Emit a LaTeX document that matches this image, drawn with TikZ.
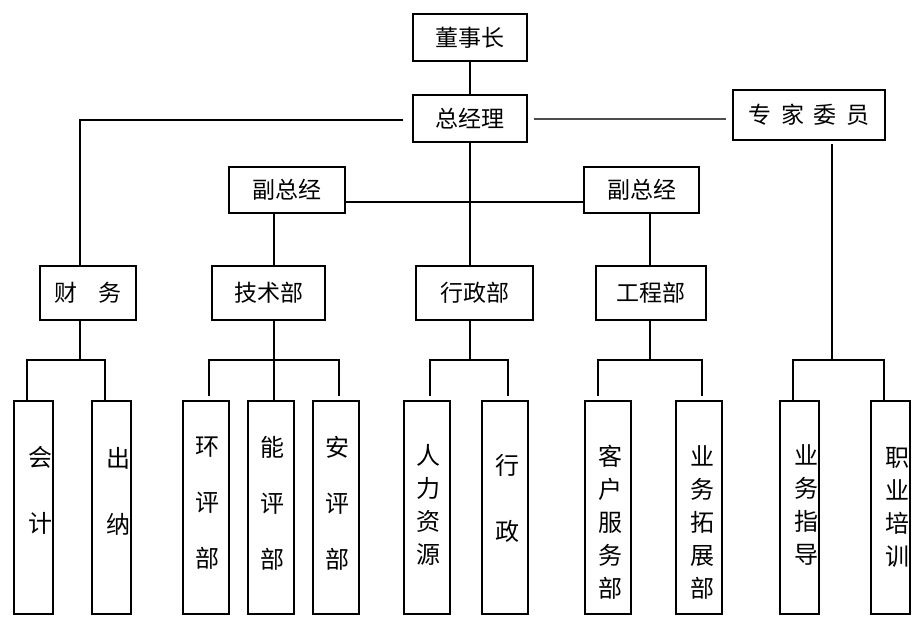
\documentclass[tikz,border=0pt]{standalone}
\usepackage{fontspec}
\newfontfamily\cjk{Noto Sans CJK SC}
\usetikzlibrary{positioning,calc}
\tikzset{
  box/.style={
    rectangle,
    draw=black, line width=2pt,
    inner sep=0pt,
    font=\cjk\fontsize{23}{28}\selectfont,
    text centered},
  leaf/.style={
    rectangle,
    draw=black, line width=2pt,
    inner sep=0pt,
    minimum width=39pt,
    minimum height=213pt},
  wide/.style={minimum width=46pt},
  vtext/.style={
    inner sep=0pt,
    align=center,
    font=\cjk\fontsize{24}{33}\selectfont},
  line/.style={draw, line width=2pt},
}
\begin{document}
\begin{tikzpicture}[x=1pt,y=-1pt]
    \useasboundingbox (0,0) rectangle (923,633);

    % top level
    \node [box, minimum width=114pt, minimum height=47pt] (dsz) at (470,37.5) {董事长};
    \node [box, minimum width=114pt, minimum height=47pt] (zjl) at (470,118.5) {总经理};
    \node [box, minimum width=152pt, minimum height=50pt] (zj) at (809,115) {专\hspace{0.42em}家\hspace{0.42em}委\hspace{0.42em}员};
    \node [box, minimum width=116pt, minimum height=46pt] (fz1) at (287,190) {副总经};
    \node [box, minimum width=115pt, minimum height=46pt] (fz2) at (641.5,190) {副总经};

    % departments
    \node [box, minimum width=96pt, minimum height=54pt] (cw) at (88,293) {财\hspace{0.9em}务};
    \node [box, minimum width=113pt, minimum height=54pt] (jsb) at (268.5,293) {技术部};
    \node [box, minimum width=117pt, minimum height=54pt] (xzb) at (474.5,293) {行政部};
    \node [box, minimum width=110pt, minimum height=54pt] (gcb) at (651,293) {工程部};

    % leaves
    \node [leaf] (kj) at (33.5,507.5) {};
    \node [leaf] (cn) at (111.5,507.5) {};
    \node [leaf, wide] (hp) at (206,507.5) {};
    \node [leaf, wide] (np) at (271,507.5) {};
    \node [leaf, wide] (ap) at (336,507.5) {};
    \node [leaf, wide] (rl) at (427,507.5) {};
    \node [leaf, wide] (xz) at (505,507.5) {};
    \node [leaf, wide] (kh) at (608,507.5) {};
    \node [leaf, wide] (yt) at (699,507.5) {};
    \node [leaf] (yz) at (799.5,507.5) {};
    \node [leaf] (zp) at (890.5,507.5) {};

    \node [vtext] (kj-t) at (40,490) {会\\[33pt]计};
    \node [vtext] (cn-t) at (118,491) {出\\[33pt]纳};
    \node [vtext] (hp-t) at (207,503) {环\\[23pt]评\\[23pt]部};
    \node [vtext] (np-t) at (272,503) {能\\[23pt]评\\[23pt]部};
    \node [vtext] (ap-t) at (337,503) {安\\[23pt]评\\[23pt]部};
    \node [vtext] (rl-t) at (428,505) {人\\力\\资\\源};
    \node [vtext] (xz-t) at (507,498) {行\\[33pt]政};
    \node [vtext] (kh-t) at (610,522) {客\\户\\服\\务\\部};
    \node [vtext] (yt-t) at (702,522) {业\\务\\拓\\展\\部};
    \node [vtext] (yz-t) at (806,505) {业\\务\\指\\导};
    \node [vtext] (zp-t) at (897,507) {职\\业\\培\\训};

    % junctions and drops
    \coordinate (cw-j) at (80,360);
    \coordinate (jsb-j) at (274,360);
    \coordinate (xzb-j) at (470,360);
    \coordinate (gcb-j) at (650,360);
    \coordinate (zj-j) at (832,360);
    \coordinate (kj-d) at (27,401);
    \coordinate (cn-d) at (105,401);
    \coordinate (hp-d) at (209,396);
    \coordinate (ap-d) at (339,396);
    \coordinate (rl-d) at (430,396);
    \coordinate (xz-d) at (508,396);
    \coordinate (kh-d) at (598,396);
    \coordinate (yt-d) at (702,396);
    \coordinate (yz-d) at (793,401);
    \coordinate (zp-d) at (884,401);

    % connectors
    \draw[line] (dsz.south) -- (zjl.north);
    \draw[line] ([xshift=-9pt,yshift=-1.5pt]zjl.west) -| (cw.north -| cw-j);
    \draw[line, black!70] ([xshift=6pt]zjl.east) -- ([xshift=-6pt]zjl.east -| zj.west);
    \draw[line] (zjl.south) -- (zjl.south |- xzb.north);
    \draw[line] ([yshift=-12pt]fz1.east) -- ([yshift=-12pt]fz2.west);
    \draw[line] (fz1.south -| jsb-j) -- (jsb.north -| jsb-j);
    \draw[line] (fz2.south -| gcb-j) -- (gcb.north -| gcb-j);
    \draw[line] ([yshift=-3pt]zj.south -| zj-j) -- (zj-j);

    \draw[line] (cw.south -| cw-j) -- (cw-j);
    \draw[line] (kj-d) |- (cw-j) -| (cn-d);
    \draw[line] (jsb.south -| jsb-j) -- (jsb-j) -- (jsb-j |- np.north);
    \draw[line] (hp-d) |- (jsb-j) -| (ap-d);
    \draw[line] (xzb.south -| xzb-j) -- (xzb-j);
    \draw[line] (rl-d) |- (xzb-j) -| (xz-d);
    \draw[line] (gcb.south -| gcb-j) -- (gcb-j);
    \draw[line] (kh-d) |- (gcb-j) -| (yt-d);
    \draw[line] (yz-d) |- (zj-j) -| (zp-d);

\end{tikzpicture}
\end{document}
